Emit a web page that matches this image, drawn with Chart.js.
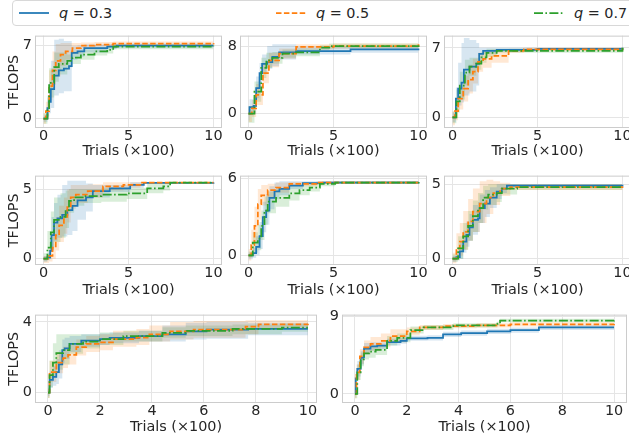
<!DOCTYPE html>
<html>
<head>
<meta charset="utf-8">
<script src="https://cdn.jsdelivr.net/npm/chart.js@4.4.0/dist/chart.umd.min.js"></script>
<style>
  body { margin: 0; width: 629px; height: 436px; overflow: hidden; background: #fff; position: relative;
         font-family: 'DejaVu Sans', sans-serif; color: #262626; }
  canvas { position: absolute; }
  .legend { position: absolute; left: 12px; top: 0; width: 640px; height: 26px; box-sizing: border-box;
            border: 1px solid #d8d8d8; border-radius: 4px; }
  .key { position: absolute; top: 0; height: 26px; font-size: 14.4px; white-space: nowrap; }
  .key svg { position: absolute; left: 0; top: 11px; }
  .key span { position: absolute; left: 41px; line-height: 26px; }
</style>
</head>
<body>
<div class="legend"></div>
<script>
// best TFLOPS found so far, per trial budget (x100)
// each row: [trials, mean, low, high]
const p1q3 = [[0,0,-0.3,0.3],[0.23,1.0,0.2,2.2],[0.33,1.6,0.5,3.5],[0.43,2.8,1.0,5.5],[0.63,4.1,2.2,7.5],[0.9,4.6,2.4,7.6],[1.2,4.75,2.6,7.4],[1.5,5.0,2.6,7.4],[1.66,6.25,5.6,6.9],[2.0,6.4,5.9,6.95],[2.4,6.7,6.3,7.05],[3.75,6.85,6.6,7.1],[4.3,6.95,6.75,7.15],[10,6.95,6.75,7.15]];
const p1q5 = [[0,0,-0.5,0.5],[0.14,0.7,0,1.6],[0.33,3.1,1.8,4.6],[0.53,4.6,3.2,6.4],[0.72,5.5,4.0,7.1],[1.0,6.1,5.0,7.2],[1.3,6.4,5.6,7.2],[1.7,6.7,6.2,7.2],[2.2,6.95,6.7,7.25],[3.0,7.05,6.85,7.3],[4.1,7.15,7.0,7.35],[10,7.2,7.05,7.35]];
const p1q7 = [[0,0,-0.5,0.5],[0.23,1.0,0.2,2.0],[0.33,3.4,2.0,4.8],[0.63,4.9,3.5,6.3],[0.9,5.2,4.2,6.3],[1.4,5.5,4.9,6.1],[1.7,5.8,5.2,6.4],[2.2,6.1,5.6,6.6],[3.0,6.4,6.0,6.8],[3.75,6.55,6.2,6.9],[4.1,6.85,6.6,7.05],[10,6.93,6.75,7.1]];

const p2q3 = [[0,0,-0.8,0.8],[0.06,0.75,-0.2,1.7],[0.3,0.9,0,2.0],[0.45,3.0,1.8,4.4],[0.65,4.8,3.5,6.0],[0.8,5.9,4.8,7.0],[1.1,6.1,5.3,8.0],[1.4,6.7,5.6,8.2],[1.8,7.25,6.4,8.2],[2.8,7.4,7.0,7.9],[6.0,7.6,7.2,7.9],[10,7.7,7.3,8.0]];
const p2q5 = [[0,0,-1.0,0.5],[0.2,0.6,-0.4,1.6],[0.45,2.2,1.0,3.5],[0.85,4.8,3.6,6.0],[1.2,6.3,5.5,7.2],[1.8,7.1,6.5,7.7],[2.8,7.9,7.6,8.2],[5.0,8.0,7.7,8.3],[10,8.2,7.9,8.5]];
const p2q7 = [[0,0,-1.1,0.9],[0.35,2.6,1.4,3.8],[0.75,5.4,4.2,6.6],[1.05,6.3,5.4,7.2],[1.4,6.6,5.9,7.3],[2.0,7.1,6.6,7.6],[2.8,7.25,6.8,7.7],[4.2,7.8,7.5,8.1],[4.75,8.0,7.7,8.3],[10,8.1,7.8,8.4]];

const p3q3 = [[0,0,-0.5,0.5],[0.2,1.9,0.8,3.0],[0.33,2.9,1.2,5.5],[0.53,3.5,1.5,7.5],[0.67,4.8,2.2,8.0],[1.0,5.1,2.6,7.8],[1.4,5.4,3.2,7.5],[1.57,6.4,5.8,7.0],[1.8,6.7,6.4,7.0],[2.6,6.8,6.6,7.0],[5.0,6.9,6.8,7.0],[10,7.0,6.9,7.1]];
const p3q5 = [[0,0,-0.8,0.6],[0.14,0.64,-0.3,1.6],[0.33,1.9,0.8,3.0],[0.63,2.9,1.6,4.2],[0.92,3.8,2.4,5.3],[1.2,4.6,3.4,5.9],[1.5,5.6,4.6,6.5],[1.8,5.9,5.0,6.7],[2.3,6.2,5.5,6.8],[3.3,6.7,6.5,6.9],[4.2,6.85,6.7,7.0],[10,6.95,6.85,7.05]];
const p3q7 = [[0,0,-0.6,0.6],[0.23,1.6,0.5,2.8],[0.43,3.2,1.8,4.6],[0.73,4.5,3.2,5.8],[1.0,5.1,4.2,6.0],[1.4,5.4,4.8,6.0],[1.7,6.05,5.5,6.6],[2.0,6.5,6.1,6.9],[2.6,6.7,6.5,6.9],[10,7.0,6.9,7.1]];

const p4q3 = [[0,0,-0.2,0.2],[0.23,0.1,-0.1,0.4],[0.39,0.56,0,1.5],[0.47,1.7,0.6,3.0],[0.62,2.6,1.3,4.0],[0.82,2.9,1.5,4.6],[1.1,3.15,1.6,5.3],[1.4,3.5,1.7,5.6],[1.7,3.8,2.0,5.6],[2.0,4.2,2.8,5.6],[2.5,4.4,3.4,5.4],[2.9,4.85,4.4,5.3],[3.9,5.05,4.8,5.3],[5.1,5.3,5.1,5.5],[5.9,5.45,5.4,5.5],[10,5.47,5.42,5.52]];
const p4q5 = [[0,0,-0.3,0.2],[0.33,0.2,-0.2,0.7],[0.53,0.8,0,1.8],[0.72,1.7,0.6,3.0],[0.92,2.4,1.2,3.8],[1.2,3.0,1.8,4.4],[1.4,3.7,2.6,5.0],[1.6,4.4,3.6,5.3],[1.9,4.6,4.0,5.3],[2.6,4.85,4.4,5.35],[3.5,5.2,4.9,5.5],[4.7,5.3,5.1,5.5],[5.7,5.47,5.42,5.52],[10,5.47,5.42,5.52]];
const p4q7 = [[0,0,-0.2,0.4],[0.23,0.8,0,2.0],[0.43,1.9,0.6,3.4],[0.62,2.8,1.2,4.4],[1.0,3.0,1.5,4.7],[1.3,3.5,2.2,4.9],[1.5,4.15,3.3,5.0],[1.8,4.4,3.8,5.0],[2.4,4.5,4.0,5.0],[3.4,4.6,4.1,5.1],[4.9,4.7,4.3,5.1],[6.1,5.05,4.7,5.4],[7.05,5.2,4.9,5.5],[7.45,5.47,5.42,5.52],[10,5.47,5.42,5.52]];

const p5q3 = [[0,0,-0.3,0.2],[0.25,0.17,-0.2,0.6],[0.45,0.66,0,1.5],[0.65,1.5,0.5,2.6],[0.84,3.0,1.8,4.2],[1.04,3.5,2.4,4.8],[1.23,4.5,3.6,5.4],[1.53,5.0,4.4,5.7],[1.82,5.2,4.7,5.8],[2.4,5.45,5.2,5.8],[3.2,5.65,5.5,5.8],[4.4,5.7,5.6,5.8],[10,5.75,5.7,5.8]];
const p5q5 = [[0,0,-0.4,0.5],[0.16,0.8,0,2.0],[0.35,2.3,1.0,3.8],[0.55,4.0,2.8,5.2],[0.75,4.7,3.9,5.5],[1.13,5.1,4.5,5.6],[1.62,5.3,4.9,5.7],[2.4,5.6,5.4,5.75],[4.0,5.7,5.6,5.8],[10,5.75,5.7,5.8]];
const p5q7 = [[0,0,-0.2,0.3],[0.25,1.0,0.2,1.8],[0.55,1.3,0.4,2.4],[0.75,2.3,1.2,3.5],[0.94,3.5,2.4,4.6],[1.13,4.2,3.3,5.0],[1.62,4.5,3.8,5.2],[2.4,4.85,4.3,5.4],[3.0,5.1,4.7,5.5],[3.6,5.3,5.0,5.6],[4.2,5.6,5.4,5.75],[5.1,5.7,5.6,5.8],[10,5.75,5.7,5.8]];

const p6q3 = [[0,0,-0.2,0.2],[0.23,0.1,-0.1,0.4],[0.43,0.5,0,1.1],[0.63,1.15,0.4,1.9],[0.82,1.6,0.8,2.5],[1.0,2.1,1.2,3.0],[1.2,2.6,1.6,3.6],[1.5,2.7,1.8,3.8],[1.6,3.4,2.4,4.3],[1.9,3.7,2.8,4.6],[2.2,4.1,3.4,4.8],[2.6,4.5,4.0,5.0],[2.9,4.7,4.4,5.0],[3.2,4.9,4.8,5.0],[10,4.85,4.8,4.9]];
const p6q5 = [[0,0,-0.3,0.4],[0.23,0.7,-0.1,1.7],[0.43,1.15,0.2,2.4],[0.63,1.8,0.6,3.2],[0.92,2.5,1.2,4.0],[1.2,3.15,1.8,4.7],[1.6,3.7,2.4,5.2],[2.0,4.1,3.0,5.3],[2.4,4.4,3.6,5.2],[2.8,4.7,4.2,5.1],[3.4,4.8,4.6,5.0],[10,4.85,4.8,4.9]];
const p6q7 = [[0,0,-0.2,0.3],[0.33,0.7,0,1.5],[0.63,1.5,0.6,2.4],[0.92,2.2,1.2,3.2],[1.2,2.85,1.8,3.9],[1.5,3.4,2.4,4.4],[1.8,4.1,3.3,4.9],[2.1,4.3,3.6,5.0],[2.6,4.4,3.8,5.0],[2.9,4.7,4.3,5.0],[3.8,4.8,4.6,5.0],[10,4.85,4.8,4.9]];

const p7q3 = [[0,0,-0.2,0.2],[0.06,0.73,0.3,1.2],[0.19,0.9,0.4,1.5],[0.32,1.17,0.5,1.9],[0.42,1.6,0.8,2.4],[0.55,2.4,1.7,3.0],[0.64,2.5,1.9,3.1],[0.83,2.76,2.3,3.2],[1.28,2.94,2.6,3.3],[2.0,3.03,2.7,3.35],[2.37,3.1,2.8,3.4],[3.5,3.2,2.9,3.5],[4.4,3.3,2.9,3.8],[5.3,3.47,3.0,3.95],[6.1,3.56,3.05,4.0],[7.7,3.6,3.25,3.95],[10,3.6,3.25,3.95]];
const p7q5 = [[0,0,-0.3,0.3],[0.06,1.17,0.6,1.8],[0.32,1.7,1.1,2.3],[0.58,1.96,1.4,2.6],[0.77,2.14,1.6,2.7],[1.09,2.58,2.1,3.0],[1.47,2.76,2.3,3.2],[2.0,2.85,2.4,3.3],[2.5,3.03,2.6,3.5],[3.4,3.11,2.7,3.6],[3.9,3.3,2.9,3.8],[4.7,3.47,3.0,4.0],[5.6,3.56,3.1,4.05],[7.6,3.73,3.3,4.1],[8.1,3.86,3.6,4.1],[10,3.9,3.7,4.1]];
const p7q7 = [[0,0,-0.3,0.3],[0.06,1.0,0.3,1.8],[0.19,1.7,0.9,2.8],[0.32,2.23,1.3,3.3],[0.58,2.4,1.6,3.3],[0.83,2.76,2.2,3.3],[1.35,2.88,2.5,3.3],[2.0,3.03,2.7,3.4],[2.9,3.2,2.9,3.5],[4.4,3.38,3.1,3.7],[5.3,3.5,3.2,3.8],[7.1,3.6,3.3,3.85],[9.0,3.68,3.45,3.9],[10,3.68,3.45,3.9]];

const p8q3 = [[0,0,-0.3,0.3],[0.03,1.8,1.0,2.6],[0.09,2.9,2.0,3.8],[0.22,4.2,3.4,5.0],[0.35,5.25,4.6,5.9],[0.6,5.5,5.0,6.0],[0.86,5.6,5.2,6.0],[1.24,6.0,5.6,6.4],[1.76,6.15,5.8,6.5],[2.0,6.45,6.15,6.75],[2.8,6.5,6.2,6.8],[3.4,6.9,6.6,7.2],[4.1,7.05,6.75,7.35],[5.1,7.25,6.95,7.55],[6.0,7.4,7.1,7.7],[7.1,7.7,7.4,7.95],[10,7.7,7.4,7.95]];
const p8q5 = [[0,0,-0.5,0.5],[0.06,2.5,1.6,3.4],[0.19,4.35,3.5,5.2],[0.35,5.4,4.6,6.2],[0.6,5.8,5.0,6.6],[1.0,6.15,5.4,7.0],[1.37,6.7,6.0,7.5],[2.0,7.25,6.8,7.7],[2.5,7.7,7.4,8.0],[3.4,7.85,7.6,8.1],[4.7,7.95,7.7,8.2],[6.0,8.05,7.8,8.3],[10,8.1,7.85,8.35]];
const p8q7 = [[0,0,-0.5,0.5],[0.09,2.5,1.6,3.4],[0.22,4.0,3.2,4.8],[0.35,4.7,4.0,5.4],[0.54,4.9,4.2,5.6],[0.8,5.1,4.5,5.7],[1.24,6.15,5.6,6.7],[1.63,6.5,6.0,7.0],[2.14,7.4,7.0,7.8],[2.65,7.7,7.4,8.0],[3.8,7.95,7.7,8.2],[5.5,8.15,7.9,8.4],[5.6,8.5,8.3,8.7],[10,8.6,8.4,8.8]];

const qValues = [0.3, 0.5, 0.7];
const yTicks = [[0, 7], [0, 8], [0, 7], [0, 5], [0, 6], [0, 5], [0, 4], [0, 9]];
const xTicksShort = [0, 5, 10];
const xTicksLong = [0, 2, 4, 6, 8, 10];

const panelSeries = [
  [p1q3, p1q5, p1q7], [p2q3, p2q5, p2q7], [p3q3, p3q5, p3q7],
  [p4q3, p4q5, p4q7], [p5q3, p5q5, p5q7], [p6q3, p6q5, p6q7],
  [p7q3, p7q5, p7q7], [p8q3, p8q5, p8q7]
];

// plot boxes on the page [left, top, right, bottom] and axis limits
const panels = [
  { box: [35, 30, 222, 128],  x: [-0.5, 10.5],  y: [-0.9, 7.9],   gap: 23 },
  { box: [240, 30, 427, 128], x: [-0.5, 10.5],  y: [-1.71, 9.23], gap: 23 },
  { box: [444, 30, 631, 128], x: [-0.5, 10.5],  y: [-1.07, 8.23], gap: 23 },
  { box: [35, 170, 222, 265], x: [-0.5, 10.5],  y: [-0.45, 5.97], gap: 25 },
  { box: [240, 170, 427, 265], x: [-0.5, 10.5], y: [-0.76, 6.24], gap: 25 },
  { box: [444, 170, 631, 265], x: [-0.5, 10.5], y: [-0.42, 5.57], gap: 25 },
  { box: [35, 309, 317, 403], x: [-0.5, 10.35], y: [-0.58, 4.41], gap: 24 },
  { box: [342, 309, 627, 403], x: [-0.5, 10.5], y: [-1.06, 9.19], gap: 24 }
];

const colors = ['#1f77b4', '#ff7f0e', '#2ca02c'];
const bands = ['rgba(31,119,180,0.18)', 'rgba(255,127,14,0.18)', 'rgba(44,160,44,0.18)'];
const dashes = [[], [5.5, 2.4], [9, 2.4, 1.6, 2.4]];
const keyLeft = [18, 275, 533];

Chart.defaults.font.family = "'DejaVu Sans', sans-serif";
Chart.defaults.font.size = 14.4;
Chart.defaults.color = '#262626';

// axes box drawn on all four sides
const frame = {
  id: 'frame',
  afterDatasetsDraw(chart) {
    const { ctx, chartArea: a } = chart;
    ctx.save();
    ctx.strokeStyle = '#cccccc';
    ctx.lineWidth = 1;
    ctx.strokeRect(a.left + 0.5, a.top + 0.5, a.right - a.left - 1, a.bottom - a.top - 1);
    ctx.restore();
  }
};

// legend across the top
qValues.forEach((q, s) => {
  const key = document.createElement('div');
  key.className = 'key';
  key.style.left = keyLeft[s] + 'px';
  key.innerHTML = `<svg width="32" height="4"><line x1="1" y1="2" x2="31" y2="2" stroke="${colors[s]}"
    stroke-width="1.75" stroke-dasharray="${dashes[s].join(' ') || 'none'}"/></svg><span><i>q</i> = ${q}</span>`;
  document.body.appendChild(key);
});

panels.forEach((p, i) => {
  const [L, T, R, B] = p.box;
  const firstCol = L < 100;
  const yW = firstCol ? L : 17;
  const padT = 6, padR = 2, xH = p.gap + 9;
  const xt = i < 6 ? xTicksShort : xTicksLong;

  const cv = document.createElement('canvas');
  cv.width = R - L + yW + padR;
  cv.height = B - T + padT + xH;
  cv.style.left = (L - yW) + 'px';
  cv.style.top = (T - padT) + 'px';
  document.body.appendChild(cv);

  const datasets = [];
  panelSeries[i].forEach((rows, s) => {
    const pts = k => rows.map(r => ({ x: r[0], y: r[k] }));
    datasets.push({ data: pts(3), stepped: true, borderWidth: 0, pointRadius: 0,
      backgroundColor: bands[s], fill: '+1', order: 10 });
    datasets.push({ data: pts(2), stepped: true, borderWidth: 0, pointRadius: 0, fill: false, order: 10 });
    datasets.push({ data: pts(1), stepped: true, borderColor: colors[s], borderWidth: 1.75,
      borderDash: dashes[s], pointRadius: 0, fill: false, order: 3 - s });
  });

  new Chart(cv, {
    type: 'line',
    data: { datasets },
    plugins: [frame],
    options: {
      responsive: false,
      animation: false,
      devicePixelRatio: 1,
      layout: { padding: { top: padT, right: padR, left: 0, bottom: 0 }, autoPadding: false },
      plugins: { legend: { display: false }, tooltip: { enabled: false } },
      scales: {
        x: {
          type: 'linear', min: p.x[0], max: p.x[1],
          afterBuildTicks: sc => { sc.ticks = xt.map(v => ({ value: v })); },
          afterFit: sc => { sc.height = xH; },
          ticks: { padding: 0, autoSkip: false, maxRotation: 0, callback: v => String(v) },
          grid: { color: '#e5e5e5', drawTicks: false },
          border: { display: false },
          title: { display: true, text: 'Trials (×100)', padding: 0 }
        },
        y: {
          type: 'linear', min: p.y[0], max: p.y[1],
          afterBuildTicks: sc => { sc.ticks = yTicks[i].map(v => ({ value: v })); },
          afterFit: sc => { sc.width = yW; },
          ticks: { padding: 3, autoSkip: false, callback: v => String(v) },
          grid: { color: '#e5e5e5', drawTicks: false },
          border: { display: false },
          title: { display: firstCol, text: 'TFLOPS', padding: { top: 6, bottom: 0 } }
        }
      }
    }
  });
});
</script>
</body>
</html>
